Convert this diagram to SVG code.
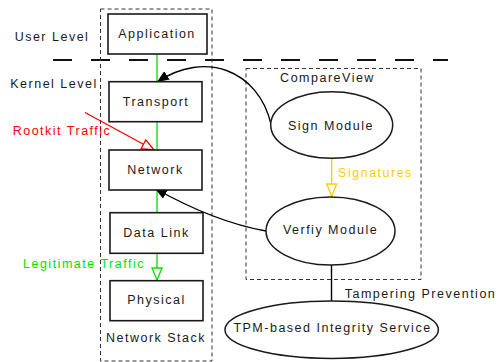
<svg xmlns="http://www.w3.org/2000/svg" width="498" height="362" viewBox="0 0 498 362">
  <defs>
    <style>
      text { font-family: "Liberation Sans", Arial, sans-serif; font-size: 12.5px; letter-spacing: 1.5px; fill: #1a1a1a; text-anchor: middle; }
      .box { fill: #ffffff; stroke: #1a1a1a; stroke-width: 1.6; }
      .oval { fill: #ffffff; stroke: #1a1a1a; stroke-width: 1.5; }
      .group { fill: none; stroke: #333333; stroke-width: 1; stroke-dasharray: 4 3; }
      .link { fill: none; stroke: #00e000; stroke-width: 1.3; }
      .call { fill: none; stroke: #000000; stroke-width: 1.4; }
      .red { fill: #ff0000; }
      .green { fill: #00e000; }
      .gold { fill: #ffcc00; }
    </style>
    <marker id="solid" viewBox="0 0 12 10" refX="12" refY="5" markerWidth="12" markerHeight="10" markerUnits="userSpaceOnUse" orient="auto">
      <path d="M0,0 L12,5 L0,10 Z" fill="#000000"/>
    </marker>
    <marker id="hollowRed" viewBox="0 0 14 12" refX="13" refY="6" markerWidth="14" markerHeight="12" markerUnits="userSpaceOnUse" orient="auto">
      <path d="M1,1 L13,6 L1,11 Z" fill="#ffffff" stroke="#ff0000" stroke-width="1.3"/>
    </marker>
    <marker id="hollowGreen" viewBox="0 0 14 12" refX="13" refY="6" markerWidth="14" markerHeight="12" markerUnits="userSpaceOnUse" orient="auto">
      <path d="M1,1 L13,6 L1,11 Z" fill="#ffffff" stroke="#00e000" stroke-width="1.3"/>
    </marker>
    <marker id="hollowGold" viewBox="0 0 14 12" refX="13" refY="6" markerWidth="14" markerHeight="12" markerUnits="userSpaceOnUse" orient="auto">
      <path d="M1,1 L13,6 L1,11 Z" fill="#ffffff" stroke="#ffcc00" stroke-width="1.3"/>
    </marker>
  </defs>

  <rect width="498" height="362" fill="#ffffff"/>

  <!-- user / kernel boundary -->
  <line x1="53" y1="60" x2="448" y2="60" stroke="#111111" stroke-width="2" stroke-dasharray="19 19"/>
  <text x="52" y="40.5">User Level</text>
  <text x="54" y="87.5">Kernel Level</text>

  <!-- grouping frames -->
  <g id="network-stack">
    <rect class="group" x="100.5" y="9" width="111.5" height="352"/>
    <text x="156" y="342">Network Stack</text>
  </g>
  <g id="compareview">
    <rect class="group" x="246" y="68.5" width="175" height="211" stroke="#444444"/>
    <text x="327.5" y="82.3">CompareView</text>
  </g>

  <!-- connectors -->
  <g id="connectors">
    <line class="link" x1="157" y1="54" x2="157" y2="82"/>
    <line class="link" x1="157" y1="121" x2="157" y2="150"/>
    <line class="link" x1="157" y1="190" x2="157" y2="213"/>
    <line class="link" x1="157" y1="253" x2="157" y2="280" marker-end="url(#hollowGreen)"/>
    <line x1="85" y1="112.5" x2="154" y2="150" stroke="#ff0000" stroke-width="1.3" marker-end="url(#hollowRed)"/>
    <line x1="331.7" y1="158.3" x2="331.7" y2="196" stroke="#ffcc00" stroke-width="1.3" marker-end="url(#hollowGold)"/>
    <path class="call" d="M271,124 C258,70 205,50 157,82" marker-end="url(#solid)"/>
    <path class="call" d="M266,231 Q215,222 155,188.5" marker-end="url(#solid)"/>
    <line class="call" x1="331.5" y1="265" x2="331.5" y2="301"/>
    <text class="red" x="62" y="135">Rootkit Traffic</text>
    <text class="green" x="84" y="267.5">Legitimate Traffic</text>
    <text class="gold" x="375.5" y="177">Signatures</text>
    <text x="420.5" y="298">Tampering Prevention</text>
  </g>

  <!-- stack layers -->
  <g id="application">
    <rect class="box" x="108" y="14" width="99" height="40"/>
    <text x="157" y="37.5">Application</text>
  </g>
  <g id="transport">
    <rect class="box" x="109" y="81.7" width="93" height="40"/>
    <text x="156" y="106">Transport</text>
  </g>
  <g id="network">
    <rect class="box" x="109" y="150" width="93" height="40"/>
    <text x="155.5" y="173.5">Network</text>
  </g>
  <g id="data-link">
    <rect class="box" x="110" y="212.7" width="93" height="40.6"/>
    <text x="156.5" y="237.3">Data Link</text>
  </g>
  <g id="physical">
    <rect class="box" x="110" y="280.7" width="93" height="40"/>
    <text x="156.5" y="304.3">Physical</text>
  </g>

  <!-- CompareView modules -->
  <g id="sign-module">
    <ellipse class="oval" cx="331.7" cy="125" rx="61" ry="33.3"/>
    <text x="331" y="129.5">Sign Module</text>
  </g>
  <g id="verify-module">
    <ellipse class="oval" cx="330.5" cy="231" rx="64.5" ry="34"/>
    <text x="330.5" y="234">Verfiy Module</text>
  </g>
  <g id="tpm-service">
    <ellipse class="oval" cx="331.7" cy="329.7" rx="106.7" ry="28.7"/>
    <text x="332.5" y="331.7">TPM-based Integrity Service</text>
  </g>
</svg>
